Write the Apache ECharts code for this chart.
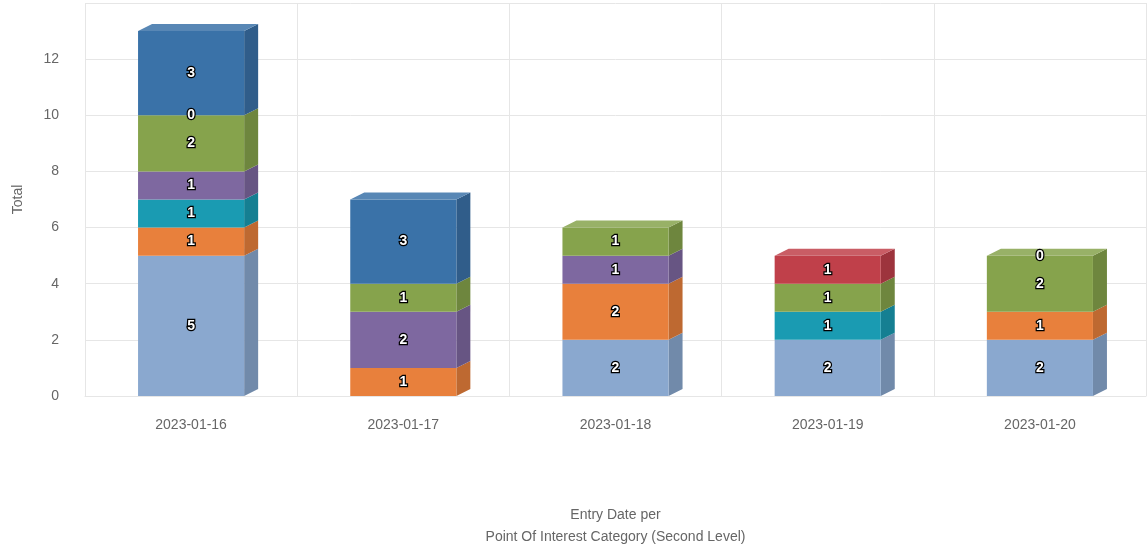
<!DOCTYPE html>
<html>
<head>
<meta charset="utf-8">
<script src="https://cdn.jsdelivr.net/npm/echarts@6/dist/echarts.min.js"></script>
<style>
html,body{margin:0;padding:0;background:#fff;}
#chart{width:1148px;height:553px;}
</style>
</head>
<body>
<div id="chart"></div>
<script>
const categories = ['2023-01-16', '2023-01-17', '2023-01-18', '2023-01-19', '2023-01-20'];
const yTicks = [0, 2, 4, 6, 8, 10, 12];
// stack order: bottom to top
const lightBlue = [5, null, 2, 2, 2];
const orange    = [1, 1, 2, null, 1];
const teal      = [1, null, null, 1, null];
const purple    = [1, 2, 1, null, null];
const green     = [2, 1, 1, 1, 2];
const red       = [0, null, null, 1, 0];
const darkBlue  = [3, 3, null, null, null];

const seriesNames = ['Series A', 'Series B', 'Series C', 'Series D', 'Series E', 'Series F', 'Series G'];
const seriesValues = [lightBlue, orange, teal, purple, green, red, darkBlue];
const seriesColors = ['#8aa8cf', '#e8803c', '#1a9bb2', '#7e68a0', '#86a34c', '#c0404a', '#3a72a8'];

function shade(hex, f) {
  const n = parseInt(hex.slice(1), 16);
  let r = (n >> 16) & 255, g = (n >> 8) & 255, b = n & 255;
  if (f < 1) { r *= f; g *= f; b *= f; }
  else { r = r + (255 - r) * (f - 1); g = g + (255 - g) * (f - 1); b = b + (255 - b) * (f - 1); }
  return 'rgb(' + Math.round(r) + ',' + Math.round(g) + ',' + Math.round(b) + ')';
}

// compute stacks
const base = categories.map(() => 0);
const topIdx = categories.map(() => -1);
seriesValues.forEach((vals, s) => vals.forEach((v, i) => { if (v !== null && v > 0) topIdx[i] = s; }));
const seriesData = seriesValues.map((vals, s) => {
  const out = [];
  vals.forEach((v, i) => {
    if (v === null) return;
    out.push([i, base[i], base[i] + v, v, topIdx[i] === s ? 1 : 0]);
    base[i] += v;
  });
  return out;
});
const labelData = [].concat.apply([], seriesData);

const DX = 14, DY = 7;

function geom(api) {
  const i = api.value(0), b = api.value(1), t = api.value(2);
  const p0 = api.coord([i, b]);
  const p1 = api.coord([i, t]);
  const bw = api.size([1, 0])[0];
  const w = bw * 0.5;
  const cx = p0[0];
  return { cx: cx, x0: cx - w / 2, x1: cx + w / 2, w: w, yb: p0[1], yt: p1[1] };
}

function makeRender(color) {
  return function (params, api) {
    const v = api.value(3), isTop = api.value(4);
    const g = geom(api);
    const children = [];
    if (v > 0) {
      children.push({
        type: 'polygon',
        shape: { points: [[g.x1, g.yb], [g.x1 + DX, g.yb - DY], [g.x1 + DX, g.yt - DY], [g.x1, g.yt]] },
        style: { fill: shade(color, 0.82) }
      });
      children.push({
        type: 'rect',
        shape: { x: g.x0, y: g.yt, width: g.w, height: g.yb - g.yt },
        style: { fill: color }
      });
      if (isTop) {
        children.push({
          type: 'polygon',
          shape: { points: [[g.x0, g.yt], [g.x0 + DX, g.yt - DY], [g.x1 + DX, g.yt - DY], [g.x1, g.yt]] },
          style: { fill: shade(color, 1.15) }
        });
      }
    }
    return { type: 'group', children: children };
  };
}

function renderLabel(params, api) {
  const g = geom(api);
  return {
    type: 'text',
    x: g.cx, y: (g.yb + g.yt) / 2,
    style: {
      text: String(api.value(3)),
      fill: '#fff',
      stroke: '#000',
      lineWidth: 2.5,
      font: 'bold 14px "Liberation Sans", Arial, sans-serif',
      align: 'center',
      verticalAlign: 'middle'
    }
  };
}

const series = seriesNames.map((name, s) => ({
  name: name,
  type: 'custom',
  renderItem: makeRender(seriesColors[s]),
  encode: { x: 0, y: [1, 2] },
  data: seriesData[s],
  clip: false,
  z: 2 + s
}));
series.push({
  name: 'labels',
  type: 'custom',
  renderItem: renderLabel,
  encode: { x: 0, y: [1, 2] },
  data: labelData,
  clip: false,
  silent: true,
  z: 30
});

const chart = echarts.init(document.getElementById('chart'));
chart.setOption({
  animation: false,
  backgroundColor: '#fff',
  textStyle: { fontFamily: '"Liberation Sans", Arial, sans-serif' },
  grid: { left: 85, right: 2, top: 3, bottom: 153, containLabel: false },
  xAxis: {
    type: 'category',
    data: categories,
    axisLine: { show: true, lineStyle: { color: '#e6e6e6' } },
    axisTick: { show: false },
    splitLine: { show: true, lineStyle: { color: '#e6e6e6' } },
    axisLabel: { color: '#666', fontSize: 14, margin: 22 },
    name: 'Entry Date per\nPoint Of Interest Category (Second Level)',
    nameLocation: 'middle',
    nameGap: 108,
    nameTextStyle: { color: '#666', fontSize: 14, lineHeight: 22 }
  },
  yAxis: {
    type: 'value',
    min: 0,
    max: 14,
    interval: 2,
    axisLine: { show: false },
    axisTick: { show: false },
    splitLine: { show: true, lineStyle: { color: '#e6e6e6' } },
    axisLabel: {
      color: '#666', fontSize: 14, margin: 26, showMaxLabel: false,
      formatter: function (val) { return yTicks.indexOf(val) >= 0 ? String(val) : ''; }
    },
    name: 'Total',
    nameLocation: 'middle',
    nameRotate: 90,
    nameGap: 60,
    nameTextStyle: { color: '#666', fontSize: 14 }
  },
  series: series
});
</script>
</body>
</html>
